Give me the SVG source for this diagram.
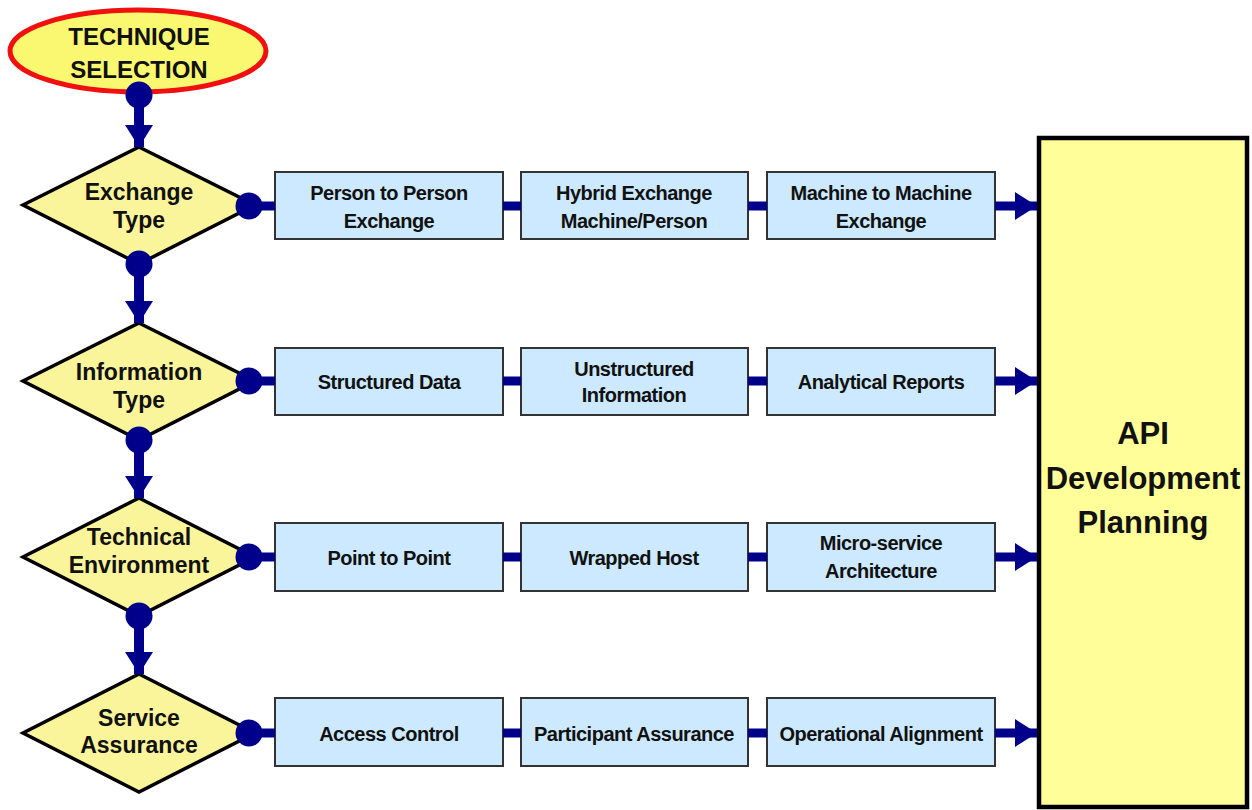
<svg xmlns="http://www.w3.org/2000/svg" width="1252" height="810" viewBox="0 0 1252 810">
<style>
text{font-family:"Liberation Sans",Arial,sans-serif;font-weight:bold;fill:#111;text-anchor:middle}
.dt{font-size:23px}
.bt{font-size:20px;letter-spacing:-0.5px}
.box{fill:#CCE9FF;stroke:#333;stroke-width:2}
.dia{fill:#FAF59A;stroke:#000;stroke-width:3.5;stroke-linejoin:miter}
.ln{stroke:#00008B;fill:none}
.v{stroke-width:10}
.h{stroke-width:9}
.dot{fill:#00008B}
</style>
<defs>
<marker id="ah" markerUnits="userSpaceOnUse" markerWidth="26" markerHeight="30" refX="22" refY="14" orient="auto" viewBox="0 0 26 30">
<path d="M0,0 L22,14 L0,28 z" fill="#00008B"/>
</marker>
</defs>
<g id="start">
<ellipse cx="138" cy="51" rx="128" ry="41" fill="#FAF870" stroke="#F01010" stroke-width="5"/>
<text x="139" y="45" style="font-size:24px">TECHNIQUE</text>
<text x="139" y="78" style="font-size:24px">SELECTION</text>
</g>
<g id="d1"><polygon class="dia" points="139,147 255,205 139,264 23,205"/>
<text class="dt" x="139" y="200">Exchange</text><text class="dt" x="139" y="228">Type</text></g>
<g id="d2"><polygon class="dia" points="139,323 255,381 139,440 23,381"/>
<text class="dt" x="139" y="380">Information</text><text class="dt" x="139" y="408">Type</text></g>
<g id="d3"><polygon class="dia" points="139,498 255,557 139,616 23,557"/>
<text class="dt" x="139" y="545">Technical</text><text class="dt" x="139" y="573">Environment</text></g>
<g id="d4"><polygon class="dia" points="139,674 255,733 139,792 23,733"/>
<text class="dt" x="139" y="726">Service</text><text class="dt" x="139" y="753">Assurance</text></g>

<g id="b11"><rect class="box" x="275" y="172" width="228" height="67"/><text class="bt" x="389" y="200">Person to Person</text><text class="bt" x="389" y="228">Exchange</text></g>
<g id="b12"><rect class="box" x="521" y="172" width="227" height="67"/><text class="bt" x="634" y="200">Hybrid Exchange</text><text class="bt" x="634" y="228">Machine/Person</text></g>
<g id="b13"><rect class="box" x="767" y="172" width="228" height="67"/><text class="bt" x="881" y="200">Machine to Machine</text><text class="bt" x="881" y="228">Exchange</text></g>

<g id="b21"><rect class="box" x="275" y="348" width="228" height="67"/><text class="bt" x="389" y="389">Structured Data</text></g>
<g id="b22"><rect class="box" x="521" y="348" width="227" height="67"/><text class="bt" x="634" y="376">Unstructured</text><text class="bt" x="634" y="402">Information</text></g>
<g id="b23"><rect class="box" x="767" y="348" width="228" height="67"/><text class="bt" x="881" y="389">Analytical Reports</text></g>

<g id="b31"><rect class="box" x="275" y="523" width="228" height="68"/><text class="bt" x="389" y="565">Point to Point</text></g>
<g id="b32"><rect class="box" x="521" y="523" width="227" height="68"/><text class="bt" x="634" y="565">Wrapped Host</text></g>
<g id="b33"><rect class="box" x="767" y="523" width="228" height="68"/><text class="bt" x="881" y="550">Micro-service</text><text class="bt" x="881" y="578">Architecture</text></g>

<g id="b41"><rect class="box" x="275" y="698" width="228" height="68"/><text class="bt" x="389" y="741">Access Control</text></g>
<g id="b42"><rect class="box" x="521" y="698" width="227" height="68"/><text class="bt" x="634" y="741">Participant Assurance</text></g>
<g id="b43"><rect class="box" x="767" y="698" width="228" height="68"/><text class="bt" x="881" y="741">Operational Alignment</text></g>

<g id="api"><rect x="1039" y="138" width="208" height="669" fill="#FFFE99" stroke="#000" stroke-width="4.5"/>
<text x="1143" y="444" style="font-size:31px">API</text>
<text x="1143" y="489" style="font-size:31px">Development</text>
<text x="1143" y="533" style="font-size:31px">Planning</text></g>

<g id="connectors">
<line class="ln v" x1="139" y1="95" x2="139" y2="147" marker-end="url(#ah)"/>
<line class="ln v" x1="139" y1="264" x2="139" y2="323" marker-end="url(#ah)"/>
<line class="ln v" x1="139" y1="440" x2="139" y2="498" marker-end="url(#ah)"/>
<line class="ln v" x1="139" y1="616" x2="139" y2="674" marker-end="url(#ah)"/>
<circle class="dot" cx="139" cy="95" r="13.5"/>
<circle class="dot" cx="139" cy="264" r="13.5"/>
<circle class="dot" cx="139" cy="440" r="13.5"/>
<circle class="dot" cx="139" cy="616" r="13.5"/>

<line class="ln h" x1="249" y1="206" x2="275" y2="206"/>
<line class="ln h" x1="503" y1="206" x2="521" y2="206"/>
<line class="ln h" x1="748" y1="206" x2="767" y2="206"/>
<line class="ln h" x1="995" y1="206" x2="1037" y2="206" marker-end="url(#ah)"/>
<circle class="dot" cx="249" cy="206" r="13.5"/>

<line class="ln h" x1="249" y1="381" x2="275" y2="381"/>
<line class="ln h" x1="503" y1="381" x2="521" y2="381"/>
<line class="ln h" x1="748" y1="381" x2="767" y2="381"/>
<line class="ln h" x1="995" y1="381" x2="1037" y2="381" marker-end="url(#ah)"/>
<circle class="dot" cx="249" cy="381" r="13.5"/>

<line class="ln h" x1="249" y1="557" x2="275" y2="557"/>
<line class="ln h" x1="503" y1="557" x2="521" y2="557"/>
<line class="ln h" x1="748" y1="557" x2="767" y2="557"/>
<line class="ln h" x1="995" y1="557" x2="1037" y2="557" marker-end="url(#ah)"/>
<circle class="dot" cx="249" cy="557" r="13.5"/>

<line class="ln h" x1="249" y1="733" x2="275" y2="733"/>
<line class="ln h" x1="503" y1="733" x2="521" y2="733"/>
<line class="ln h" x1="748" y1="733" x2="767" y2="733"/>
<line class="ln h" x1="995" y1="733" x2="1037" y2="733" marker-end="url(#ah)"/>
<circle class="dot" cx="249" cy="733" r="13.5"/>
</g>
</svg>
